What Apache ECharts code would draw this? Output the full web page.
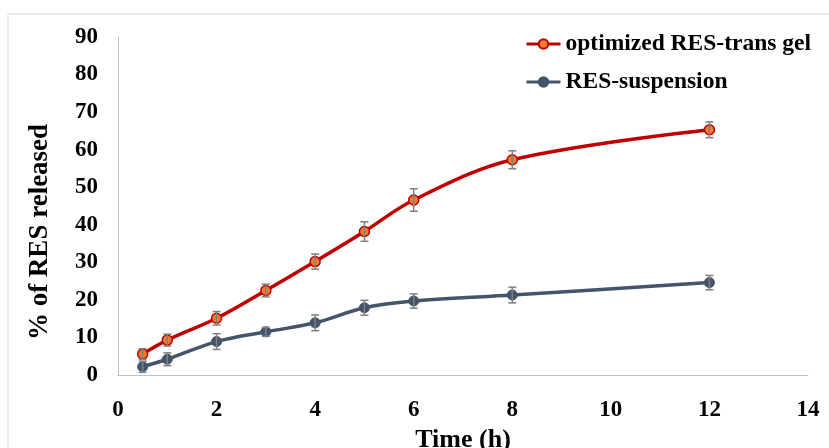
<!DOCTYPE html>
<html>
<head>
<meta charset="utf-8">
<script src="https://cdn.jsdelivr.net/npm/echarts@6/dist/echarts.min.js"></script>
<style>
  html, body { margin: 0; padding: 0; background: #ffffff; }
  #chart { width: 829px; height: 448px; }
</style>
</head>
<body>
<div id="chart"></div>
<script>
// Sampling times (h)
const times = [0.5, 1, 2, 3, 4, 5, 6, 8, 12];

// Cumulative % of RES released, mean and SD
const gelMean = [5.6, 9.3, 15.1, 22.5, 30.2, 38.2, 46.6, 57.3, 65.3];
const gelSD   = [1.4, 1.6, 1.8, 1.7, 2.0, 2.6, 3.0, 2.4, 2.1];
const suspMean = [2.2, 4.2, 8.9, 11.5, 13.9, 17.9, 19.7, 21.3, 24.6];
const suspSD   = [1.5, 1.7, 2.1, 1.2, 2.1, 2.0, 1.9, 2.1, 1.9];

const seriesNames = ['optimized RES-trans gel', 'RES-suspension'];
const xTicks = [0, 2, 4, 6, 8, 10, 12, 14];
const yTicks = [0, 10, 20, 30, 40, 50, 60, 70, 80, 90];

const serif = '"Liberation Serif", "Times New Roman", serif';

const points = (mean) => times.map((t, i) => [t, mean[i]]);
const bars = (mean, sd) => times.map((t, i) => [t, mean[i] - sd[i], mean[i] + sd[i]]);

// Vertical SD bar with short caps at both ends
function renderErrorBar(params, api) {
  const x = api.value(0);
  const top = api.coord([x, api.value(2)]);
  const bottom = api.coord([x, api.value(1)]);
  const half = 4;
  const style = { stroke: '#7f7f7f', lineWidth: 1.5 };
  return {
    type: 'group',
    children: [
      { type: 'line', shape: { x1: top[0], y1: top[1], x2: bottom[0], y2: bottom[1] }, style },
      { type: 'line', shape: { x1: top[0] - half, y1: top[1], x2: top[0] + half, y2: top[1] }, style },
      { type: 'line', shape: { x1: bottom[0] - half, y1: bottom[1], x2: bottom[0] + half, y2: bottom[1] }, style }
    ]
  };
}

const chart = echarts.init(document.getElementById('chart'), null, { renderer: 'canvas' });

chart.setOption({
  animation: false,
  backgroundColor: '#ffffff',
  graphic: [{
    type: 'rect',
    shape: { x: 8, y: 14, width: 900, height: 500 },
    style: { fill: 'none', stroke: '#d9d9d9', lineWidth: 1 },
    silent: true,
    z: -10
  }],
  grid: { left: 118, right: 21, top: 37, bottom: 73, containLabel: false, outerBoundsMode: 'none' },
  legend: {
    orient: 'vertical',
    left: 520,
    top: 27,
    itemWidth: 34,
    itemHeight: 12,
    itemGap: 14,
    data: seriesNames,
    lineStyle: { width: 3 },
    textStyle: { fontFamily: serif, fontWeight: 'bold', fontSize: 23.5, color: '#000000' }
  },
  xAxis: {
    type: 'value',
    min: xTicks[0],
    max: xTicks[xTicks.length - 1],
    interval: 2,
    name: 'Time (h)',
    nameLocation: 'middle',
    nameGap: 48,
    nameTextStyle: { fontFamily: serif, fontWeight: 'bold', fontSize: 26, color: '#000000' },
    axisLine: { show: true, lineStyle: { color: '#bfbfbf', width: 1 } },
    axisTick: { show: false },
    splitLine: { show: false },
    axisLabel: { margin: 24, fontFamily: serif, fontWeight: 'bold', fontSize: 23, color: '#000000' }
  },
  yAxis: {
    type: 'value',
    min: yTicks[0],
    max: yTicks[yTicks.length - 1],
    interval: 10,
    name: '% of RES released',
    nameLocation: 'middle',
    nameGap: 64,
    nameTextStyle: { fontFamily: serif, fontWeight: 'bold', fontSize: 27, color: '#000000', padding: [0, 52, 0, 0] },
    axisLine: { show: true, lineStyle: { color: '#bfbfbf', width: 1 } },
    axisTick: { show: false },
    splitLine: { show: false },
    axisLabel: { margin: 20, fontFamily: serif, fontWeight: 'bold', fontSize: 23, color: '#000000' }
  },
  series: [
    {
      name: seriesNames[0],
      type: 'line',
      smooth: 0.35,
      data: points(gelMean),
      symbol: 'circle',
      symbolSize: 10,
      lineStyle: { color: '#c00000', width: 3.5 },
      itemStyle: { color: '#ed7d31', borderColor: '#c00000', borderWidth: 1.5 },
      z: 3
    },
    {
      name: seriesNames[1],
      type: 'line',
      smooth: 0.35,
      data: points(suspMean),
      symbol: 'circle',
      symbolSize: 10,
      lineStyle: { color: '#44546a', width: 3.5 },
      itemStyle: { color: '#44546a', borderColor: '#44546a', borderWidth: 1 },
      z: 2
    },
    {
      type: 'custom',
      renderItem: renderErrorBar,
      data: bars(gelMean, gelSD),
      encode: { x: 0, y: [1, 2] },
      z: 5,
      silent: true
    },
    {
      type: 'custom',
      renderItem: renderErrorBar,
      data: bars(suspMean, suspSD),
      encode: { x: 0, y: [1, 2] },
      z: 5,
      silent: true
    }
  ]
});
</script>
</body>
</html>
